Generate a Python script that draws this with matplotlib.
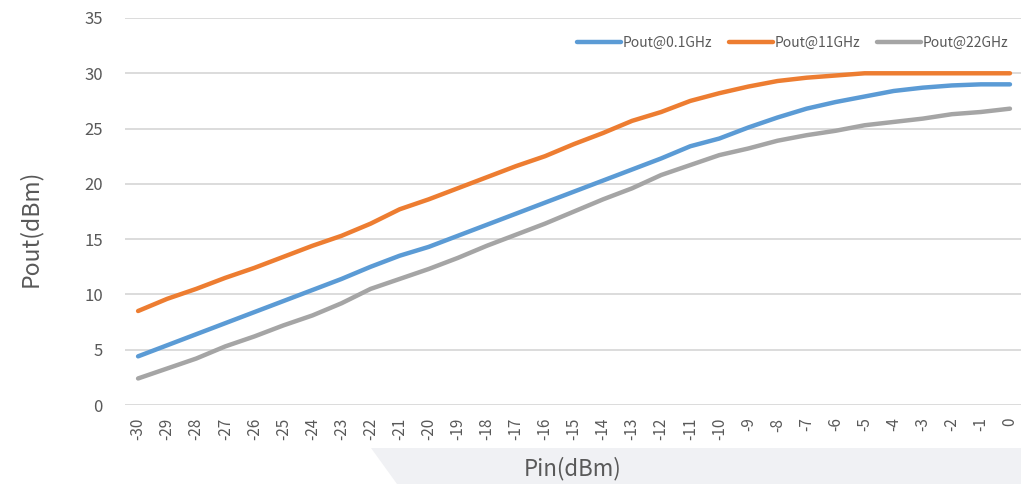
import numpy as np
import matplotlib.pyplot as plt
from matplotlib.patches import Polygon

# Pin sweep (dBm)
pin = list(range(-30, 1))

pout_01ghz = [4.4, 5.4, 6.4, 7.4, 8.4, 9.4, 10.4, 11.4, 12.5, 13.5, 14.3,
              15.3, 16.3, 17.3, 18.3, 19.3, 20.3, 21.3, 22.3, 23.4, 24.1,
              25.1, 26.0, 26.8, 27.4, 27.9, 28.4, 28.7, 28.9, 29.0, 29.0]
pout_11ghz = [8.5, 9.6, 10.5, 11.5, 12.4, 13.4, 14.4, 15.3, 16.4, 17.7, 18.6,
              19.6, 20.6, 21.6, 22.5, 23.6, 24.6, 25.7, 26.5, 27.5, 28.2,
              28.8, 29.3, 29.6, 29.8, 30.0, 30.0, 30.0, 30.0, 30.0, 30.0]
pout_22ghz = [2.4, 3.3, 4.2, 5.3, 6.2, 7.2, 8.1, 9.2, 10.5, 11.4, 12.3,
              13.3, 14.4, 15.4, 16.4, 17.5, 18.6, 19.6, 20.8, 21.7, 22.6,
              23.2, 23.9, 24.4, 24.8, 25.3, 25.6, 25.9, 26.3, 26.5, 26.8]

labels = ['Pout@0.1GHz', 'Pout@11GHz', 'Pout@22GHz']
colors = ['#5B9BD5', '#ED7D31', '#A5A5A5']

plt.rcParams['font.family'] = ['Noto Sans CJK SC', 'DejaVu Sans']

fig = plt.figure(figsize=(10.21, 4.84), dpi=100)

# light gray panel behind the x label (bottom right of the image)
fig.patches.append(Polygon([(371/1021, 36/484), (1.0, 36/484), (1.0, 0.0), (397/1021, 0.0)],
                           closed=True, transform=fig.transFigure,
                           facecolor='#F0F1F4', edgecolor='none', zorder=0))

ax = fig.add_axes([125/1021, 79/484, 1 - 125/1021, 387/484])
ax.set_facecolor('none')

x = np.array(pin)
for ys, lab, c in zip([pout_01ghz, pout_11ghz, pout_22ghz], labels, colors):
    ax.plot(x, ys, color=c, lw=3.2, label=lab, solid_capstyle='round', zorder=3)

ax.set_xlim(-30.45, 0.38)
ax.set_ylim(0, 35)
ax.set_yticks(range(0, 36, 5))
ax.set_xticks(pin)
ax.set_xticklabels([str(p) for p in pin], rotation=90)
ax.tick_params(axis='x', length=0, pad=9, labelsize=11, labelcolor='#595959')
ax.tick_params(axis='y', length=0, pad=16, labelsize=12, labelcolor='#595959')
for t in ax.get_yticklabels():
    t.set_fontweight('light')

ax.grid(axis='y', color='#D9D9D9', lw=1.3)
ax.set_axisbelow(True)
for s in ax.spines.values():
    s.set_visible(False)

fig.text(30/1021, 1 - 228/484, 'Pout(dBm)', rotation=90, ha='center', va='center',
         fontsize=16.5, color='#595959')
fig.text(573/1021, 1 - 469/484, 'Pin(dBm)', ha='center', va='center',
         fontsize=16, color='#595959')

ax.legend(loc='upper right', bbox_to_anchor=(1.0, 0.985), ncol=3, frameon=False,
          fontsize=10, handlelength=3.2, handletextpad=0.1, columnspacing=1.2,
          labelcolor='#595959')

fig.savefig('out.png', dpi=100)
